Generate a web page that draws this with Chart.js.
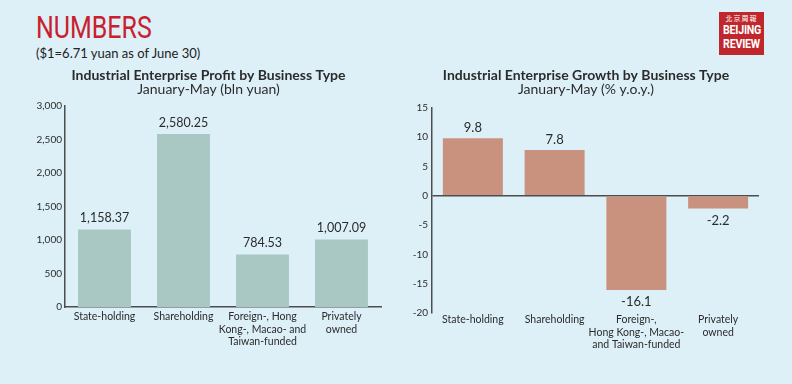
<!DOCTYPE html>
<html>
<head>
<meta charset="utf-8" />
<title>Numbers</title>
<script src="https://cdn.jsdelivr.net/npm/chart.js@4.4.1/dist/chart.umd.min.js"></script>
<style>
  html, body { margin: 0; padding: 0; }
  body { width: 792px; height: 384px; background: #ddf0f8; position: relative; overflow: hidden; font-family: Lato, sans-serif; }
  #headline { position: absolute; left: 36px; top: 7px; font-family: Roboto, sans-serif; font-size: 32px; line-height: 40px; color: #c9202c; transform: scaleX(0.78); transform-origin: left top; white-space: nowrap; }
  #rate { position: absolute; left: 36px; top: 44px; font-size: 13px; line-height: 18px; color: #222; white-space: nowrap; }
  #logo { position: absolute; left: 719px; top: 12px; width: 45px; height: 43px; background: #c0272d; color: #fff; text-align: center; }
  #logo .cn { font-family: "Noto Sans CJK TC", sans-serif; font-size: 7px; line-height: 9px; margin-top: 2px; letter-spacing: 1px; }
  #logo .en { font-family: Roboto, sans-serif; font-weight: 700; font-size: 13px; line-height: 14px; transform: scaleX(0.82); letter-spacing: -0.3px; }
  #left { position: absolute; left: 0; top: 60px; width: 400px; height: 297px; }
  #right { position: absolute; left: 400px; top: 60px; width: 392px; height: 298px; }
</style>
</head>
<body>
  <div id="headline">NUMBERS</div>
  <div id="rate">($1=6.71 yuan as of June 30)</div>
  <div id="logo"><div class="cn">北京周報</div><div class="en">BEIJING</div><div class="en">REVIEW</div></div>
  <div id="left"><canvas id="profit"></canvas></div>
  <div id="right"><canvas id="growth"></canvas></div>
<script>
// data
const profitCategories = [
  ["State-holding"],
  ["Shareholding"],
  ["Foreign-, Hong", "Kong-, Macao- and", "Taiwan-funded"],
  ["Privately", "owned"]
];
const growthCategories = [
  ["State-holding"],
  ["Shareholding"],
  ["Foreign-,", "Hong Kong-, Macao-", "and Taiwan-funded"],
  ["Privately", "owned"]
];
const profitValues = [1158.37, 2580.25, 784.53, 1007.09];
const growthValues = [9.8, 7.8, -16.1, -2.2];
const profitTicks = [0, 500, 1000, 1500, 2000, 2500, 3000];
const growthTicks = [-20, -15, -10, -5, 0, 5, 10, 15];

const INK = "#2b2b2b";
const AXIS = "#4d4d4d";

Chart.defaults.font.family = "Lato, sans-serif";
Chart.defaults.color = INK;
Chart.defaults.animation = false;

// draws the value over (or under) each bar
const valueLabels = {
  id: "valueLabels",
  afterDatasetsDraw(chart, args, opts) {
    const ctx = chart.ctx;
    const meta = chart.getDatasetMeta(0);
    const data = chart.data.datasets[0].data;
    ctx.save();
    ctx.font = opts.font;
    ctx.fillStyle = INK;
    ctx.textAlign = "center";
    ctx.textBaseline = "middle";
    meta.data.forEach((bar, i) => {
      const v = data[i];
      const y = v >= 0 ? bar.y - opts.up : bar.y + opts.down;
      ctx.fillText(opts.format(v), bar.x, y);
    });
    ctx.restore();
  }
};

function titleOpts(text) {
  return {
    display: true,
    text: text,
    color: INK,
    font: { size: 14, weight: "bold", lineHeight: 1 },
    padding: { top: 8, bottom: 0 }
  };
}

function subtitleOpts(text, below) {
  return {
    display: true,
    text: text,
    color: INK,
    font: { size: 14, lineHeight: 1 },
    padding: { top: 0, bottom: below }
  };
}

new Chart(document.getElementById("profit"), {
  type: "bar",
  data: {
    labels: profitCategories,
    datasets: [{
      data: profitValues,
      backgroundColor: "#a9c8c3",
      barPercentage: 0.67,
      categoryPercentage: 1
    }]
  },
  plugins: [valueLabels],
  options: {
    responsive: true,
    maintainAspectRatio: false,
    layout: { padding: { left: 36, right: 19, top: 0, bottom: 0 } },
    plugins: {
      legend: { display: false },
      tooltip: { enabled: false },
      title: titleOpts("Industrial Enterprise Profit by Business Type"),
      subtitle: subtitleOpts("January-May (bln yuan)", 10),
      valueLabels: {
        font: "12.5px Lato, sans-serif",
        up: 11.5,
        down: 12,
        format: v => v.toLocaleString("en-US", { minimumFractionDigits: 2 })
      }
    },
    scales: {
      x: {
        grid: { display: false, drawTicks: false },
        border: { display: true, color: AXIS, width: 1.5 },
        ticks: { font: { size: 10.5, lineHeight: 1.15 }, padding: 4, maxRotation: 0, autoSkip: false, color: INK },
        afterFit(s) { s.height = 50; }
      },
      y: {
        min: profitTicks[0],
        max: profitTicks[profitTicks.length - 1],
        afterBuildTicks(s) { s.ticks = profitTicks.map(v => ({ value: v })); },
        grid: { display: false, drawTicks: false },
        border: { display: true, color: AXIS, width: 1.5 },
        ticks: { font: { size: 10 }, padding: 3, color: INK },
        afterFit(s) { s.width = 29; }
      }
    }
  }
});

new Chart(document.getElementById("growth"), {
  type: "bar",
  data: {
    labels: growthCategories,
    datasets: [{
      data: growthValues,
      backgroundColor: "#c8927f",
      barPercentage: 0.734,
      categoryPercentage: 1
    }]
  },
  plugins: [valueLabels],
  options: {
    responsive: true,
    maintainAspectRatio: false,
    layout: { padding: { left: 13, right: 33, top: 0, bottom: 0 } },
    plugins: {
      legend: { display: false },
      tooltip: { enabled: false },
      title: titleOpts("Industrial Enterprise Growth by Business Type"),
      subtitle: subtitleOpts("January-May (% y.o.y.)", 11.7),
      valueLabels: {
        font: "13px Lato, sans-serif",
        up: 10,
        down: 12,
        format: v => v.toFixed(1)
      }
    },
    scales: {
      x: {
        grid: { display: false, drawTicks: false },
        border: { display: false },
        ticks: { font: { size: 10.5, lineHeight: 1.15 }, padding: 1, maxRotation: 0, autoSkip: false, color: INK },
        afterFit(s) { s.height = 45; }
      },
      y: {
        min: growthTicks[0],
        max: growthTicks[growthTicks.length - 1],
        afterBuildTicks(s) { s.ticks = growthTicks.map(v => ({ value: v })); },
        grid: {
          drawTicks: false,
          lineWidth: 1.5,
          color: c => (c.tick && c.tick.value === 0 ? AXIS : "rgba(0,0,0,0)")
        },
        border: { display: true, color: AXIS, width: 1.5 },
        ticks: { font: { size: 10 }, padding: 4, color: INK },
        afterFit(s) { s.width = 19; }
      }
    }
  }
});
</script>
</body>
</html>
